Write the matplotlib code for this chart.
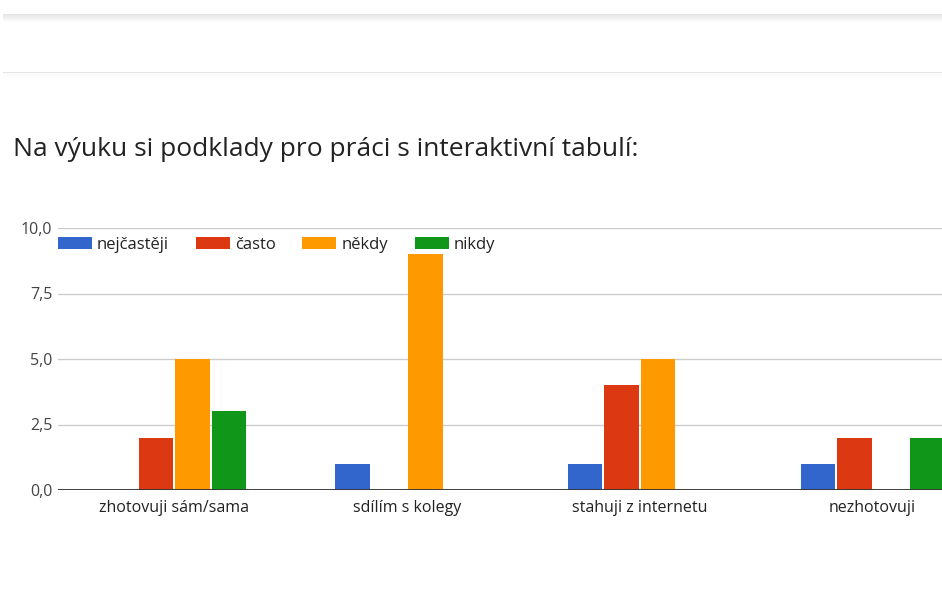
import matplotlib
matplotlib.use("Agg")
import matplotlib.pyplot as plt
import numpy as np
from matplotlib.patches import Rectangle

categories = ["zhotovuji sám/sama", "sdílím s kolegy", "stahuji z internetu", "nezhotovuji"]
series_names = ["nejčastěji", "často", "někdy", "nikdy"]
nejcasteji = [0, 1, 1, 1]
casto = [2, 0, 4, 2]
nekdy = [5, 9, 5, 0]
nikdy = [3, 0, 0, 2]
yticks = [0, 2.5, 5, 7.5, 10]
ytick_labels = ["0,0", "2,5", "5,0", "7,5", "10,0"]
title = "Na výuku si podklady pro práci s interaktivní tabulí:"

colors = ["#3366cc", "#dc3912", "#ff9900", "#109618"]

plt.rcParams['font.family'] = ['Open Sans', 'DejaVu Sans']

W, H = 942, 607
fig = plt.figure(figsize=(W / 100, H / 100), dpi=100)
fig.patch.set_facecolor("white")

# top shadow band and separator line
for i in range(8):
    a = 0.10 * (1 - i / 8)
    fig.patches.append(Rectangle((3 / W, 1 - (15 + i) / H), 1, 1 / H, transform=fig.transFigure,
                                 color="black", alpha=a, lw=0))
fig.patches.append(Rectangle((3 / W, 1 - 73 / H), 1, 1.2 / H, transform=fig.transFigure,
                             color="#e6e6e6", lw=0))
for i in range(6):
    fig.patches.append(Rectangle((3 / W, 1 - (74 + i) / H), 1, 1 / H, transform=fig.transFigure,
                                 color="black", alpha=0.02 * (1 - i / 6), lw=0))

fig.text(13 / W, 1 - 150 / H, title, fontsize=19, color="#222222", va="center", ha="left")

left, right, top, bottom = 58, 989, 228, 490
ax = fig.add_axes([left / W, 1 - bottom / H, (right - left) / W, (bottom - top) / H])
ax.set_xlim(-0.5, 3.5)
ax.set_ylim(0, 10)

x = np.arange(len(categories))
data = [nejcasteji, casto, nekdy, nikdy]
step = 0.157
bw = 0.148
for k, (vals, c, name) in enumerate(zip(data, colors, series_names)):
    ax.bar(x + (k - 1.5) * step, vals, width=bw, color=c, label=name, zorder=3)

for s in ax.spines.values():
    s.set_visible(False)
ax.set_yticks(yticks)
ax.set_yticklabels(ytick_labels)
ax.set_xticks(x)
ax.set_xticklabels(categories)
ax.tick_params(axis="both", length=0, labelsize=11.5, colors="#444444")
ax.tick_params(axis="y", pad=4)
ax.tick_params(axis="x", pad=7)
for lab in ax.get_xticklabels():
    lab.set_color("#222222")
ax.grid(axis="y", color="#cccccc", lw=1, zorder=0)
ax.axhline(0, color="#333333", lw=1.3, zorder=4)

leg = ax.legend(loc="upper left", bbox_to_anchor=(-0.002, 0.972), ncol=4, frameon=False,
                fontsize=12, handlelength=2.05, handleheight=0.7, handletextpad=0.3,
                columnspacing=1.6, borderaxespad=0, borderpad=0.1)
for t in leg.get_texts():
    t.set_color("#222222")

fig.savefig("out.png", dpi=100)
